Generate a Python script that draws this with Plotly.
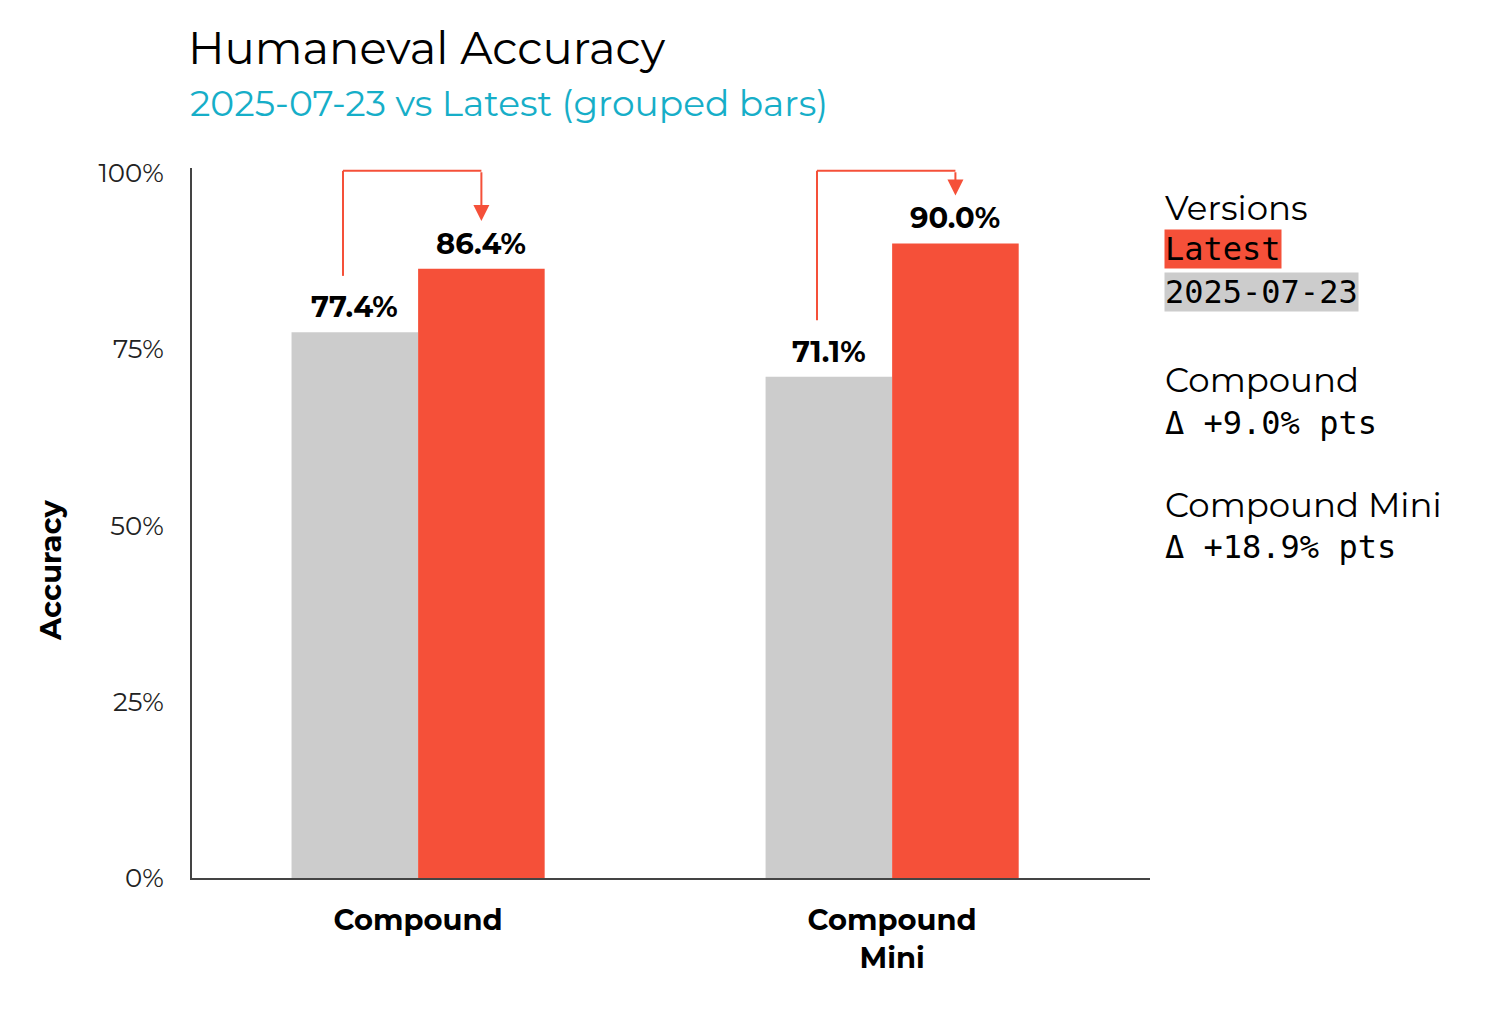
import plotly.graph_objects as go

'''
   Humaneval accuracy, old snapshot vs latest
'''
models = ['Compound', 'Compound Mini']
model_ticks = ['<b>Compound</b>', '<b>Compound<br>Mini</b>']
versions = ['2025-07-23', 'Latest']
acc_old = [77.4, 71.1]
acc_latest = [86.4, 90.0]

red = '#F55039'
grey = '#CCCCCC'
cyan = '#16AEC8'
sans = 'Montserrat, Open Sans, sans-serif'
mono = 'DejaVu Sans Mono, monospace'

# page body adds an 8px margin, figure is sized to fit inside it
W, H = 1474, 996

# geometry of the grouped bars in category units
bargap = 0.466
half = (1 - bargap) / 4  # offset from group centre to each bar centre

fig = go.Figure()
fig.add_bar(x=models, y=acc_old, name=versions[0],
            marker=dict(color=grey, line=dict(width=0)))
fig.add_bar(x=models, y=acc_latest, name=versions[1],
            marker=dict(color=red, line=dict(width=0)))

# value labels above bars
for i, (a, b) in enumerate(zip(acc_old, acc_latest)):
    for xpos, v in ((i - half, a), (i + half, b)):
        fig.add_annotation(x=xpos, y=v, text=f"<b>{v:.1f}%</b>",
                           showarrow=False, yanchor='bottom', yshift=6,
                           font=dict(family=sans, size=29, color='black'))

# bracket arrows from old bar to latest bar
top = 100.3
for i, (a, b) in enumerate(zip(acc_old, acc_latest)):
    x0 = i - half - 0.025
    x1 = i + half
    fig.add_shape(type='line', x0=x0, x1=x0, y0=a + 8, y1=top,
                  line=dict(color=red, width=2))
    fig.add_shape(type='line', x0=x0, x1=x1, y0=top, y1=top,
                  line=dict(color=red, width=2))
    fig.add_annotation(x=x1, y=b + 6.8, ax=x1, ay=top,
                       axref='x', ayref='y', text='', showarrow=True,
                       arrowhead=2, arrowsize=1.6, arrowwidth=2,
                       arrowcolor=red, standoff=0)

# legend-like block on the right (positions in page pixels -> paper)
def px(x):
    return (x - 192) / 958

def py(y):
    return (878 - y) / 710

side = [
    ('Versions', sans, None, 208),
    (versions[1], mono, red, 249.5),
    (versions[0], mono, grey, 292),
]
for i, m in enumerate(models):
    d = acc_latest[i] - acc_old[i]
    side.append((m, sans, None, 380 + i * 125))
    side.append((f"Δ +{d:.1f}% pts", mono, None, 423 + i * 124))

for txt, fam, bg, y in side:
    fig.add_annotation(x=px(1164), y=py(y), xref='paper', yref='paper',
                       text=txt, showarrow=False, xanchor='left',
                       yanchor='middle', align='left',
                       bgcolor=bg if bg else 'rgba(0,0,0,0)', borderpad=0,
                       font=dict(family=fam, size=32 if fam == mono else 34,
                                 color='black'))

# subtitle
fig.add_annotation(x=px(188), y=py(103), xref='paper', yref='paper',
                   text='2025-07-23 vs Latest (grouped bars)',
                   showarrow=False, xanchor='left', yanchor='middle',
                   font=dict(family=sans, size=36, color=cyan))

# y axis title, sits a bit below the middle of the axis
fig.add_annotation(x=px(50), y=py(570), xref='paper', yref='paper',
                   text='<b>Accuracy</b>', textangle=-90, showarrow=False,
                   xanchor='center', yanchor='middle',
                   font=dict(family=sans, size=29, color='black'))

fig.update_layout(
    width=W, height=H,
    margin=dict(l=184, r=332, t=160, b=126),
    plot_bgcolor='white', paper_bgcolor='white',
    barmode='group', bargap=bargap, bargroupgap=0,
    showlegend=False,
    title=dict(text="Humaneval Accuracy",
               x=180 / W, xref='container', xanchor='left',
               y=1 - 40 / H, yref='container', yanchor='middle',
               font=dict(family=sans, size=45, color='black')),
    xaxis=dict(tickvals=models, ticktext=model_ticks,
               range=[-0.477, 1.544], showline=True, linecolor='#444',
               linewidth=2, showgrid=False, ticks='',
               ticklabelstandoff=15,
               tickfont=dict(family=sans, size=29, color='black')),
    yaxis=dict(range=[0, 100.7], tickvals=[0, 25, 50, 75, 100],
               ticktext=['0%', '25%', '50%', '75%', '100%'],
               showline=True, linecolor='#444', linewidth=2,
               showgrid=False, zeroline=False, ticks='',
               ticklabelstandoff=21,
               tickfont=dict(family=sans, size=26, color='#222')),
)

fig.write_html("out.html")
